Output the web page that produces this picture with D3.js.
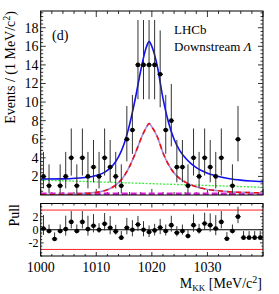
<!DOCTYPE html>
<html>
<head>
<meta charset="utf-8">
<script src="https://cdn.jsdelivr.net/npm/d3@7"></script>
<style>
  html, body { margin: 0; padding: 0; background: #fff; }
  svg { display: block; font-family: "Liberation Serif", "Times New Roman", serif; }
</style>
</head>
<body>
<svg id="chart" width="279" height="294"></svg>
<script>
// ---- data ----
// bin centres 1000.5 ... 1039.5 MeV, 1 MeV bins
const binCentres = d3.range(40).map(i => 1000.5 + i);
const counts  = [2,1,0,1,2,4,1,4,2,3, 2,4,3,2,1,6,7,14,14,14, 14,13,7,8,3,3,1,4,2,4, 3,2,4,0,1,6,0,0,0,0];
const errLo   = [1.29,0.83,0,0.83,1.29,1.91,0.83,1.91,1.29,1.63, 1.29,1.91,1.63,1.29,0.83,2.38,2.58,3.70,3.70,3.70, 3.70,3.56,2.58,2.77,1.63,1.63,0.83,1.91,1.29,1.91, 1.63,1.29,1.91,0,0.83,2.38,0,0,0,0];
const errHi   = [2.64,2.30,1.15,2.30,2.64,3.16,2.30,3.16,2.64,2.92, 2.64,3.16,2.92,2.64,2.30,3.58,3.77,4.83,4.83,4.83, 4.83,4.71,3.77,3.95,2.92,2.92,2.30,3.16,2.64,3.16, 2.92,2.64,3.16,1.15,2.30,3.58,1.15,1.15,1.15,1.15];

const pull    = [0.2,-0.2,-1.4,-0.2,0.1,1.2,-0.2,1.2,0.1,0.6, 0.0,0.9,0.3,-0.25,-1.2,0.3,0.0,0.8,0.0,-0.35, -0.1,0.33,-0.2,0.7,-0.45,-0.2,-0.95,0.7,-0.1,0.95, 0.7,0.18,1.2,-1.36,-0.2,2.0,-1.2,-1.2,-1.2,-1.2];
const pullUp  = [2.04,1,1,1,2.04,1.65,1,1.65,2.04,1.79, 1,1.65,1.79,1,1,1.51,1.46,1.31,1.31,1, 1,1.32,1,1.43,1,1,1,1.65,1,1.65, 1.79,2.04,1.65,1,1,1.51,1,1,1,1];
const pullDn  = [1,0.36,0,0.36,1,1,0.36,1,1,1, 0.49,1,1,0.49,0.36,1,1,1,1,0.77, 0.77,1,0.68,1,0.56,0.56,0.36,1,0.49,1, 1,1,1,0,0.36,1,0,0,0,0];

// fit curves sampled along the mass axis
const curveX     = [1000,1004,1008,1010,1011,1012,1013,1014,1015,1016,1017,1018,1019,1019.5,1020,1021,1022,1023,1024,1025,1026,1027,1028,1029,1030,1032,1034,1036,1038,1040];
const totalFit   = [1.72,1.74,1.88,2.10,2.30,2.65,3.20,4.10,5.50,7.60,10.3,13.4,15.9,16.5,16.0,13.8,10.4,7.80,6.00,4.80,4.00,3.40,2.95,2.60,2.35,2.00,1.75,1.60,1.50,1.42];
const signalFit  = [0.03,0.05,0.15,0.28,0.39,0.57,0.86,1.32,2.03,3.09,4.45,6.00,7.27,7.70,7.33,6.24,4.55,3.26,2.37,1.78,1.39,1.10,0.88,0.72,0.60,0.45,0.34,0.28,0.25,0.23];
const combBkgX   = [1000,1040];
const combBkg    = [1.61,0.83];
const peakBkgX   = [1000,1040];
const peakBkg    = [0.12,0.12];

const xTicks     = [1000,1010,1020,1030];
const yTicks     = [2,4,6,8,10,12,14,16,18];
const pullTicks  = [-2,0,2];
const pullLimits = [-3,3];

(function () {
    const FONT = 14;
    const main = { left: 40.7, right: 263, top: 11, bottom: 195 };
    const low  = { left: 40.7, right: 263, top: 203.5, bottom: 256 };

    const svg = d3.select('#chart');

    const x  = d3.scaleLinear().domain([1000, 1040]).range([main.left, main.right]);
    const y  = d3.scaleLinear().domain([0, 19.8]).range([main.bottom, main.top]);
    const yp = d3.scaleLinear().domain([-4, 4]).range([low.bottom, low.top]);

    svg.append('defs').append('clipPath').attr('id', 'clipMain')
        .append('rect')
        .attr('x', main.left).attr('y', main.top)
        .attr('width', main.right - main.left).attr('height', main.bottom - main.top);

    /* ---------- ticks: ROOT style, inside the frame on all four sides ---------- */
    function frameTicks(box, ys, yMaj, yMin, xLen, yLen) {
        const g = svg.append('g').attr('stroke', '#000').attr('stroke-width', 0.8);
        d3.range(1000, 1040.01, 2).forEach(v => {
            const len = (v % 10 === 0) ? xLen : xLen / 2;
            const px = x(v);
            g.append('line').attr('x1', px).attr('x2', px).attr('y1', box.bottom).attr('y2', box.bottom - len);
            g.append('line').attr('x1', px).attr('x2', px).attr('y1', box.top).attr('y2', box.top + len);
        });
        yMin.forEach(v => {
            const len = yMaj.some(m => Math.abs(m - v) < 1e-6) ? yLen : yLen / 2;
            const py = ys(v);
            g.append('line').attr('x1', box.left).attr('x2', box.left + len).attr('y1', py).attr('y2', py);
            g.append('line').attr('x1', box.right).attr('x2', box.right - len).attr('y1', py).attr('y2', py);
        });
    }

    const mainMinorY = d3.range(0.4, 19.8, 0.4).map(v => +v.toFixed(1));
    frameTicks(main, y, yTicks, mainMinorY, 6, 5);
    frameTicks(low, yp, pullTicks, d3.range(-4, 4.01, 0.5), 4, 3);

    // ---------- fit curves ----------
    const plot = svg.append('g').attr('clip-path', 'url(#clipMain)');
    const line = (xs, vs) => d3.line()
        .x((d, i) => x(xs[i]))
        .y(d => y(d))
        .curve(d3.curveMonotoneX)(vs);

    plot.append('path').attr('d', line(peakBkgX, peakBkg))
        .attr('fill', 'none').attr('stroke', '#d61fd6').attr('stroke-width', 2.6)
        .attr('stroke-dasharray', '6,3');
    plot.append('path').attr('d', line(combBkgX, combBkg))
        .attr('fill', 'none').attr('stroke', '#3ee83e').attr('stroke-width', 1.3)
        .attr('stroke-dasharray', '2,1.5');
    plot.append('path').attr('d', line(curveX, signalFit))
        .attr('fill', 'none').attr('stroke', '#a58ce0').attr('stroke-width', 1.6);
    plot.append('path').attr('d', line(curveX, signalFit))
        .attr('fill', 'none').attr('stroke', '#ee1111').attr('stroke-width', 1.6)
        .attr('stroke-dasharray', '5,4');
    plot.append('path').attr('d', line(curveX, totalFit))
        .attr('fill', 'none').attr('stroke', '#1010f0').attr('stroke-width', 1.6);

    // ---------- data points with asymmetric poisson errors ----------
    const pts = svg.append('g');
    binCentres.forEach((m, i) => {
        const n = counts[i];
        if (n <= 0) return;
        const cx = x(m), cy = y(n);
        pts.append('line').attr('x1', cx).attr('x2', cx)
            .attr('y1', y(n - errLo[i])).attr('y2', y(Math.min(n + errHi[i], 19.8)))
            .attr('stroke', '#333').attr('stroke-width', 1);
        pts.append('line').attr('x1', x(m - 0.5)).attr('x2', x(m + 0.5))
            .attr('y1', cy).attr('y2', cy)
            .attr('stroke', '#111').attr('stroke-width', 1);
        pts.append('circle').attr('cx', cx).attr('cy', cy).attr('r', 2.3).attr('fill', '#000');
    });

    // ---------- pull panel ----------
    pullLimits.forEach(v => {
        svg.append('line').attr('x1', low.left).attr('x2', low.right)
            .attr('y1', yp(v)).attr('y2', yp(v))
            .attr('stroke', '#ff2020').attr('stroke-width', 1);
    });
    svg.append('line').attr('x1', low.left).attr('x2', low.right)
        .attr('y1', yp(0)).attr('y2', yp(0))
        .attr('stroke', '#000').attr('stroke-width', 1);

    const pp = svg.append('g');
    binCentres.forEach((m, i) => {
        const p = pull[i], cx = x(m), cy = yp(p);
        pp.append('line').attr('x1', cx).attr('x2', cx)
            .attr('y1', yp(p - pullDn[i])).attr('y2', yp(p + pullUp[i]))
            .attr('stroke', '#333').attr('stroke-width', 1);
        pp.append('line').attr('x1', x(m - 0.5)).attr('x2', x(m + 0.5))
            .attr('y1', cy).attr('y2', cy)
            .attr('stroke', '#111').attr('stroke-width', 1);
        pp.append('circle').attr('cx', cx).attr('cy', cy).attr('r', 2.3).attr('fill', '#000');
    });

    // ---------- frames ----------
    [main, low].forEach(b => {
        svg.append('rect').attr('x', b.left).attr('y', b.top)
            .attr('width', b.right - b.left).attr('height', b.bottom - b.top)
            .attr('fill', 'none').attr('stroke', '#000').attr('stroke-width', 1);
    });

    // ---------- tick labels ----------
    yTicks.forEach(v => {
        svg.append('text').attr('x', 38.5).attr('y', y(v) + 5)
            .attr('text-anchor', 'end').attr('font-size', FONT).text(v);
    });
    pullTicks.forEach(v => {
        svg.append('text').attr('x', 38.5).attr('y', yp(v) + 4)
            .attr('text-anchor', 'end').attr('font-size', 12).text(v);
    });
    xTicks.forEach(v => {
        svg.append('text').attr('x', x(v)).attr('y', 271.5)
            .attr('text-anchor', 'middle').attr('font-size', FONT).text(v);
    });

    // ---------- axis titles ----------
    const yt = svg.append('text').attr('transform', 'translate(14.5,11) rotate(-90)')
        .attr('text-anchor', 'end').attr('font-size', FONT);
    yt.append('tspan').text('Events / (1 MeV/c');
    yt.append('tspan').attr('font-size', 10).attr('dy', -5).text('2');
    yt.append('tspan').attr('dy', 5).text(')');

    svg.append('text').attr('transform', 'translate(19,204) rotate(-90)')
        .attr('text-anchor', 'end').attr('font-size', FONT).text('Pull');

    const xt = svg.append('text').attr('x', 262).attr('y', 288)
        .attr('text-anchor', 'end').attr('font-size', FONT);
    xt.append('tspan').text('M');
    xt.append('tspan').attr('font-size', 9).attr('dy', 3).text('KK');
    xt.append('tspan').attr('dy', -3).text(' [MeV/c');
    xt.append('tspan').attr('font-size', 10).attr('dy', -5).text('2');
    xt.append('tspan').attr('dy', 5).text(']');

    // ---------- labels ----------
    svg.append('text').attr('x', 52).attr('y', 40).attr('font-size', FONT).text('(d)');
    svg.append('text').attr('x', 174).attr('y', 34).attr('font-size', 13).text('LHCb');
    const ds = svg.append('text').attr('x', 174).attr('y', 51).attr('font-size', 13);
    ds.append('tspan').text('Downstream ');
    ds.append('tspan').attr('font-style', 'italic').text('Λ');
})();
</script>
</body>
</html>
